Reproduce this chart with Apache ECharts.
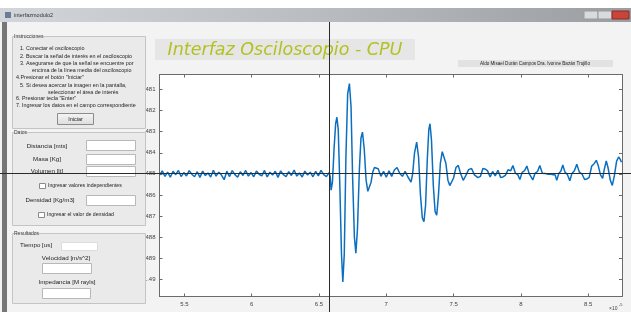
<!DOCTYPE html>
<html><head><meta charset="utf-8">
<script src="https://cdn.jsdelivr.net/npm/echarts@6/dist/echarts.min.js"></script>
<style>html,body{margin:0;padding:0;background:#f3f3f3;}#c{width:631px;height:312px;}</style>
</head><body><div id="c"></div>
<script>
// ---------- chart data ----------
const xTicks = [5.5, 6, 6.5, 7, 7.5, 8, 8.5];
const xTickLabels = ['5.5', '6', '6.5', '7', '7.5', '8', '8.5'];
const yTicks = [1.481, 1.482, 1.483, 1.484, 1.485, 1.486, 1.487, 1.488, 1.489, 1.490];
const yTickLabels = ['.481', '.482', '.483', '.484', '.485', '.486', '.487', '.488', '.489', '1.49'];

const baselineBefore = [
 [5.315,1.48506],[5.335,1.48486],[5.355,1.48512],[5.375,1.48492],[5.395,1.48516],[5.415,1.48488],[5.435,1.48504],[5.455,1.48484],
 [5.475,1.48513],[5.495,1.48494],[5.515,1.48510],[5.535,1.48485],[5.555,1.48502],[5.575,1.48514],[5.595,1.48490],[5.615,1.48517],
 [5.635,1.48487],[5.655,1.48508],[5.675,1.48496],[5.695,1.48515],[5.715,1.48483],[5.735,1.48511],[5.755,1.48492],[5.775,1.48506],
 [5.795,1.48528],[5.815,1.48488],[5.835,1.48513],[5.855,1.48485],[5.875,1.48504],[5.895,1.48516],[5.915,1.48490],[5.935,1.48508],
 [5.955,1.48484],[5.975,1.48511],[5.995,1.48494],[6.015,1.48514],[6.035,1.48487],[6.055,1.48502],[6.075,1.48510],[6.095,1.48484],
 [6.115,1.48515],[6.135,1.48492],[6.155,1.48506],[6.175,1.48488],[6.195,1.48517],[6.215,1.48486],[6.235,1.48504],[6.255,1.48513],
 [6.275,1.48490],[6.295,1.48508],[6.315,1.48482],[6.335,1.48511],[6.355,1.48496],[6.375,1.48515],[6.395,1.48487],[6.415,1.48506],
 [6.435,1.48492],[6.455,1.48514],[6.475,1.48488],[6.495,1.48510],[6.515,1.48484],[6.535,1.48504],[6.555,1.48513],[6.575,1.48494]
];
const firstEcho = [
 [6.583,1.48512],[6.590,1.48578],[6.600,1.48540],[6.612,1.48380],[6.624,1.48260],[6.633,1.48231],[6.643,1.48290],[6.655,1.48560],
 [6.667,1.48880],[6.677,1.49014],[6.688,1.48880],[6.700,1.48420],[6.713,1.48120],[6.726,1.48071],[6.738,1.48180],[6.750,1.48520],
 [6.763,1.48800],[6.774,1.48877],[6.786,1.48760],[6.800,1.48480],[6.812,1.48330],[6.823,1.48302],[6.836,1.48380],[6.850,1.48530],
 [6.863,1.48583],[6.875,1.48586],[6.887,1.48540],[6.900,1.48490],[6.912,1.48470],[6.924,1.48471]
];
const quietMid = [
 [6.940,1.48476],[6.960,1.48512],[6.980,1.48488],[7.000,1.48516],[7.020,1.48486],[7.040,1.48512],[7.060,1.48482],[7.080,1.48470],
 [7.100,1.48498],[7.120,1.48512],[7.140,1.48488],[7.160,1.48514],[7.172,1.48520]
];
const secondEcho = [
 [7.184,1.48539],[7.196,1.48500],[7.210,1.48400],[7.226,1.48349],[7.240,1.48420],[7.254,1.48600],[7.268,1.48710],[7.280,1.48728],
 [7.292,1.48650],[7.305,1.48430],[7.316,1.48290],[7.325,1.48262],[7.336,1.48340],[7.350,1.48560],[7.363,1.48680],[7.375,1.48697],
 [7.388,1.48600],[7.402,1.48450],[7.416,1.48395],[7.429,1.48389],[7.443,1.48450],[7.458,1.48530],[7.472,1.48556],[7.486,1.48555],
 [7.500,1.48520],[7.518,1.48470],[7.535,1.48460],[7.553,1.48500],[7.572,1.48531],[7.590,1.48510],[7.612,1.48480],[7.634,1.48475]
];
const tailRipple = [
 [7.655,1.48505],[7.681,1.48518],[7.700,1.48512],[7.718,1.48475],[7.733,1.48477],[7.752,1.48485],[7.772,1.48515],[7.790,1.48489],
 [7.810,1.48510],[7.830,1.48483],[7.850,1.48517],[7.867,1.48515],[7.885,1.48507],[7.905,1.48481],[7.925,1.48485],[7.941,1.48461],
 [7.960,1.48497],[7.978,1.48505],[7.993,1.48527],[8.010,1.48493],[8.028,1.48485],[8.045,1.48463],[8.062,1.48499],[8.075,1.48503],
 [8.089,1.48529],[8.105,1.48498],[8.124,1.48489],[8.141,1.48461],[8.160,1.48497],[8.180,1.48498],[8.200,1.48502],[8.220,1.48501],
 [8.240,1.48505],[8.255,1.48505],[8.267,1.48531],[8.282,1.48498],[8.298,1.48487],[8.312,1.48458],[8.328,1.48492],[8.346,1.48503],
 [8.364,1.48533],[8.380,1.48498],[8.398,1.48485],[8.416,1.48455],[8.435,1.48492],[8.455,1.48501],[8.474,1.48527],[8.490,1.48525],
 [8.508,1.48517],[8.527,1.48463],[8.545,1.48452],[8.561,1.48436],[8.575,1.48460],[8.592,1.48505],[8.608,1.48521],[8.620,1.48480],
 [8.635,1.48439],[8.648,1.48470],[8.665,1.48530],[8.680,1.48555],[8.695,1.48510],[8.712,1.48440],[8.727,1.48420],[8.738,1.48430],
 [8.748,1.48445]
];

// ---------- GUI texts ----------
const windowTitle = 'interfazmodulo2';
const chartTitle = 'Interfaz Osciloscopio - CPU';
const authors = 'Aldo Misael Durán Campos Dra. Ivonne Bazán Trujillo';
const instructionLines = [
 '1. Conectar el osciloscopio',
 '2. Buscar la señal de interés en el osciloscopio',
 '3. Asegurarse de que la señal se encuentre por',
 'encima de la línea media del osciloscopio',
 '4.Presionar el botón "Iniciar"',
 '5. Si desea acercar la imagen en la pantalla,',
 'seleccionar el área de interés',
 '6. Presionar tecla "Enter"',
 '7. Ingresar los datos en el campo correspondiente'
];
const dataLabels = ['Distancia [mts]', 'Masa [Kg]', 'Volumen [lt]'];
const checkLabels = ['Ingresar valores independientes', 'Ingresar el valor de densidad'];
const densityLabel = 'Densidad [Kg/m3]';
const resultLabels = ['Tiempo [us]', 'Velocidad [m/s^2]', 'Impedancia [M rayls]'];

// ---------- layout ----------
const FONT = '"Liberation Sans", Arial, sans-serif';
const G = [];
function rect(x, y, w, h, fill, stroke, z) {
  G.push({type: 'rect', z: z || 1, shape: {x: x, y: y, width: w, height: h},
    style: {fill: fill, stroke: stroke || null, lineWidth: 1}});
}
function txt(s, x, y, size, opts) {
  G.push({type: 'text', z: 6, x: x, y: y, style: Object.assign({text: s, fill: '#1e1e1e',
    font: size + 'px ' + FONT, align: 'left', verticalAlign: 'middle'}, opts || {})});
}
function seg(x1, y1, x2, y2, stroke, w, z) {
  G.push({type: 'line', z: z || 2, shape: {x1: x1, y1: y1, x2: x2, y2: y2},
    style: {stroke: stroke, lineWidth: w || 1}});
}

// window chrome
rect(0, 0, 631, 8, '#ffffff');
G.push({type: 'rect', z: 1, shape: {x: 0, y: 8, width: 631, height: 14},
  style: {fill: new echarts.graphic.LinearGradient(0, 0, 1, 0, [
    {offset: 0, color: '#d2d6da'}, {offset: 0.5, color: '#b9bdc1'}, {offset: 1, color: '#9a9ea3'}])}});
rect(5, 12, 6, 6, '#6a7d95');
txt(windowTitle, 14, 15, 5.5, {fill: '#333'});
rect(584, 11, 14, 8, '#d8dadc', '#9a9a9a');
rect(598, 11, 14, 8, '#d8dadc', '#9a9a9a');
rect(612, 11, 17, 8, '#c9453a', '#8a2a22');
rect(2, 22, 5, 290, '#767676');

// Instrucciones panel
rect(12.5, 36.5, 133, 92, '#eaeaea', '#c4c4c4');
txt('Instrucciones', 14, 37, 5, {fill: '#333', backgroundColor: '#eaeaea'});
const instrX = [20, 20, 20, 32, 16, 20, 48, 16, 16];
const instrY = [49, 57, 64, 71, 78, 86, 93, 99, 106];
instructionLines.forEach(function (s, i) { txt(s, instrX[i], instrY[i], 5.4); });
G.push({type: 'rect', z: 2, shape: {x: 57.5, y: 113.5, width: 36, height: 11},
  style: {fill: new echarts.graphic.LinearGradient(0, 0, 0, 1, [
    {offset: 0, color: '#f6f6f6'}, {offset: 1, color: '#dcdcdc'}]), stroke: '#8c8c8c', lineWidth: 1}});
txt('Iniciar', 75.5, 119, 5.5, {align: 'center'});

// Datos panel
rect(12.5, 132.5, 133, 93, '#eaeaea', '#c4c4c4');
txt('Datos', 14, 133, 5, {fill: '#333', backgroundColor: '#eaeaea'});
const dataLabelX = [47, 47, 47];
const dataLabelY = [146, 159, 171];
const dataBoxY = [140.5, 154.5, 166.5];
dataLabels.forEach(function (s, i) {
  txt(s, dataLabelX[i], dataLabelY[i], 6.2, {align: 'center'});
  rect(86.5, dataBoxY[i], 49, 10, '#ffffff', '#b8b8b8', 2);
});
rect(39.5, 183.5, 6, 5, '#ffffff', '#8a8a8a', 2);
txt(checkLabels[0], 48, 186, 5.2);
txt(densityLabel, 50, 200, 6.2, {align: 'center'});
rect(86.5, 195.5, 49, 10, '#ffffff', '#b8b8b8', 2);
rect(38.5, 212.5, 6, 5, '#ffffff', '#8a8a8a', 2);
txt(checkLabels[1], 47, 215, 5.2);

// Resultados panel
rect(12.5, 233.5, 133, 70, '#eaeaea', '#c4c4c4');
txt('Resultados', 14, 234, 5, {fill: '#333', backgroundColor: '#eaeaea'});
txt(resultLabels[0], 20, 245, 6.2);
rect(61.5, 242.5, 36, 8, '#ffffff', '#dcdcdc', 2);
txt(resultLabels[1], 66, 258, 6.2, {align: 'center'});
rect(42.5, 263.5, 49, 10, '#ffffff', '#b8b8b8', 2);
txt(resultLabels[2], 67, 282, 6.2, {align: 'center'});
rect(42.5, 288.5, 48, 10, '#ffffff', '#b8b8b8', 2);

// titles over the plot
rect(155, 39, 260, 21, '#e6e6e6');
txt(chartTitle, 285, 50, 17.5, {align: 'center', fill: '#b3c220',
  font: 'italic 17.5px "DejaVu Sans", sans-serif'});
rect(458, 60, 155, 7, '#e2e2e2');
txt(authors, 535, 63.5, 4.6, {align: 'center', fill: '#222'});
txt('×10', 609, 309, 5, {align: 'left', fill: '#444'});
txt('-5', 619, 305, 4, {align: 'left', fill: '#444'});

// crosshair
seg(329.5, 22, 329.5, 312, '#2a2a2a', 1, 100);
seg(0, 173.5, 631, 173.5, '#2a2a2a', 1, 100);

// ---------- chart ----------
const signal = baselineBefore.concat(firstEcho, quietMid, secondEcho, tailRipple);
function labelFor(ticks, labels) {
  return function (v) {
    for (let i = 0; i < ticks.length; i++) if (Math.abs(ticks[i] - v) < 1e-7) return labels[i];
    return '';
  };
}
const AX = '#6b6b6b';
const xMin = 5.3145, xMax = 8.752, yMin = 1.48028, yMax = 1.49083;
function xAxisDef(pos, showLabel) {
  return {type: 'value', position: pos, min: xMin, max: xMax,
    axisLine: {show: true, onZero: false, lineStyle: {color: AX, width: 1}},
    axisTick: {show: true, inside: true, length: 3, customValues: xTicks, lineStyle: {color: AX}},
    axisLabel: {show: showLabel, customValues: xTicks, formatter: labelFor(xTicks, xTickLabels),
      fontSize: 6, color: '#444', margin: 5, fontFamily: FONT},
    splitLine: {show: false}};
}
function yAxisDef(pos, showLabel) {
  return {type: 'value', position: pos, min: yMin, max: yMax, inverse: true,
    axisLine: {show: true, onZero: false, lineStyle: {color: AX, width: 1}},
    axisTick: {show: true, inside: true, length: 3, customValues: yTicks, lineStyle: {color: AX}},
    axisLabel: {show: showLabel, customValues: yTicks, formatter: labelFor(yTicks, yTickLabels),
      fontSize: 6, color: '#444', margin: 4, fontFamily: FONT},
    splitLine: {show: false}};
}
const chart = echarts.init(document.getElementById('c'), null, {renderer: 'canvas'});
chart.setOption({
  animation: false,
  backgroundColor: '#f3f3f3',
  grid: {left: 159.5, top: 74.5, right: 9, bottom: 15.5, show: true, backgroundColor: '#ffffff', borderWidth: 0},
  xAxis: [xAxisDef('bottom', true), xAxisDef('top', false)],
  yAxis: [yAxisDef('left', true), yAxisDef('right', false)],
  series: [{type: 'line', xAxisIndex: 0, yAxisIndex: 0, data: signal, showSymbol: false,
    lineStyle: {color: '#0a6fc0', width: 1.5}, z: 3}],
  graphic: {elements: G}
});
</script></body></html>
